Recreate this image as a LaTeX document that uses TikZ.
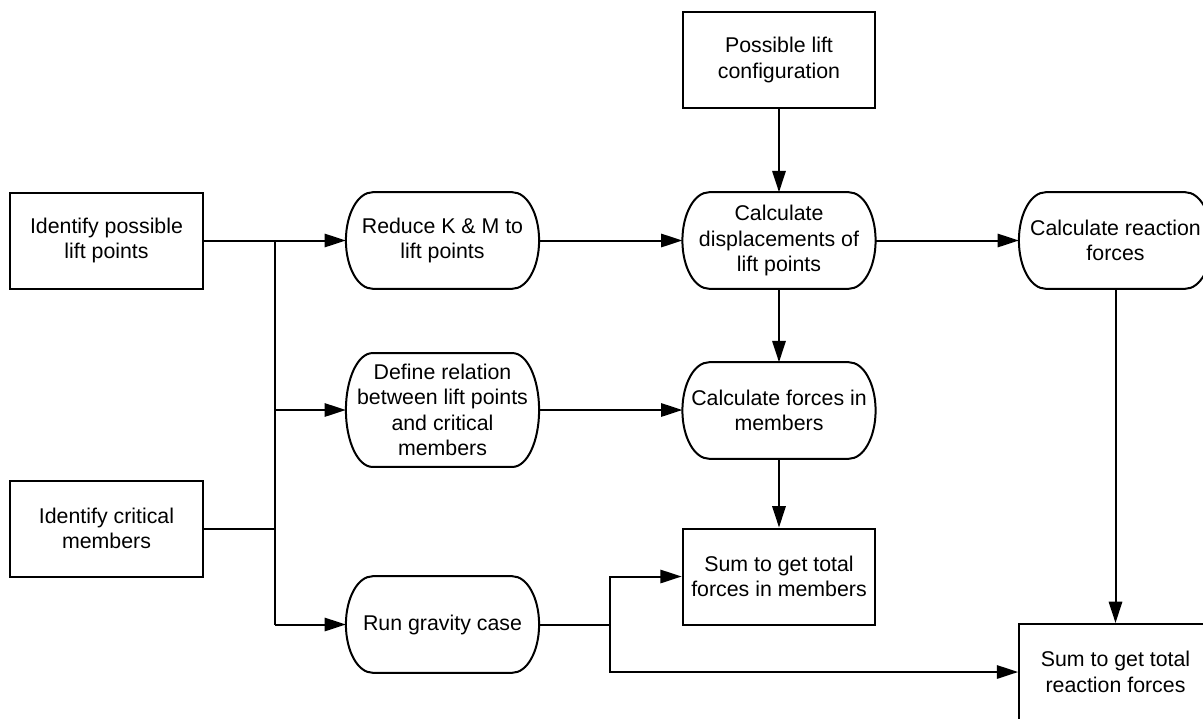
\documentclass[tikz,border=0pt]{standalone}
\usepackage{fontspec}
\setmainfont{Liberation Sans}
\usetikzlibrary{arrows.meta,calc}
\begin{document}
\begin{tikzpicture}[x=0.75pt,y=-0.75pt,
  base/.style={minimum width=144.5pt, minimum height=72pt, inner sep=0pt, align=center, font=\fontsize{16pt}{19pt}\selectfont},
  sqbox/.style={base, draw, line width=1.5pt},
  rbox/.style={base},
  outline/.style={line width=1.5pt},
  conn/.style={line width=1.5pt},
  arr/.style={line width=1.5pt, -{Triangle[length=16pt,width=10pt]}}]
\useasboundingbox (0,0) rectangle (1203,718);
\clip (0,0) rectangle (1203,718);
\node[sqbox] (plc) at (779,60) {Possible lift\\configuration};
\node[sqbox] (ilp) at (106.5,240.5) {Identify possible\\lift points};
\node[sqbox] (icm) at (106.5,528.5) {Identify critical\\members};
\node[rbox] (red) at (442.5,240.5) {Reduce K \& M to\\lift points};
\node[rbox] (cdl) at (779,240.5) {Calculate\\displacements of\\lift points};
\node[rbox] (crf) at (1115.5,240.5) {Calculate reaction\\forces};
\node[rbox, minimum height=85pt] (def) at (442.5,410) {Define relation\\between lift points\\and critical\\members};
\node[rbox] (cfm) at (779,410.5) {Calculate forces in\\members};
\node[sqbox] (stf) at (779,576.5) {Sum to get total\\forces in members};
\node[rbox] (rgc) at (442.5,624.5) {Run gravity case};
\node[sqbox] (str) at (1115.5,672) {Sum to get total\\reaction forces};
\foreach \nm in {red,cdl,crf,def,cfm,rgc} {
  \draw[outline] let \p1=(\nm.north east), \p2=(\nm.south west), \n1={(\y1-\y2)/2} in
    ([xshift=-20pt]\nm.north east) arc[start angle=90,end angle=-90,x radius=20pt,y radius=\n1]
    -- ([xshift=20pt]\nm.south west) arc[start angle=270,end angle=90,x radius=20pt,y radius=\n1]
    -- cycle;
}
\coordinate (j1) at (275,240.5);
\coordinate (jd) at (275,410);
\coordinate (j2) at (275,528.5);
\coordinate (jg) at (275,624.5);
\coordinate (k1) at (610,624.5);
\coordinate (k2) at (610,576.5);
\coordinate (k3) at (610,672);
\draw[conn] (ilp.east) -- (j1);
\draw[conn] (icm.east) -- (j2);
\draw[conn] (j1) -- (jg);
\draw[arr] (j1) -- (red.west);
\draw[arr] (jd) -- (def.west);
\draw[arr] (jg) -- (rgc.west);
\draw[arr] (red) -- (cdl);
\draw[arr] (plc) -- (cdl);
\draw[arr] (cdl) -- (crf);
\draw[arr] (cdl) -- (cfm);
\draw[arr] (def.east) -- (cfm.west |- def.east);
\draw[arr] (cfm) -- (stf);
\draw[arr] (crf) -- (str);
\draw[conn] (rgc.east) -- (k1);
\draw[arr] (k3) -- (k2) -- (stf.west);
\draw[arr] (k1) -- (k3) -- (str.west |- k3);
\end{tikzpicture}
\end{document}
